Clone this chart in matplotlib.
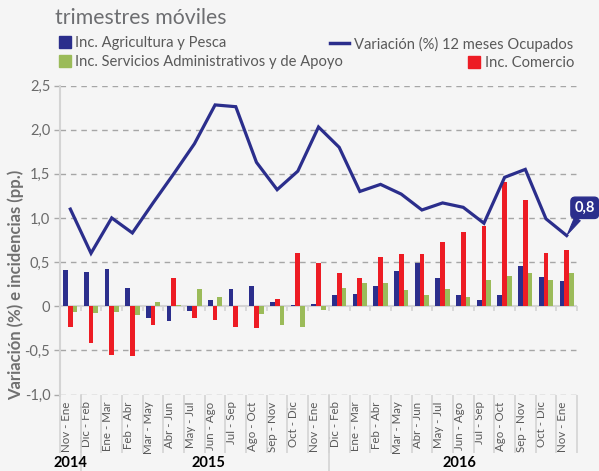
import numpy as np
import matplotlib
matplotlib.use("Agg")
import matplotlib.pyplot as plt
import matplotlib.transforms as mtransforms
from matplotlib.lines import Line2D
from matplotlib.patches import Patch

plt.rcParams['font.family'] = ['Lato', 'DejaVu Sans']

categories = ["Nov - Ene", "Dic - Feb", "Ene - Mar", "Feb - Abr", "Mar - May", "Abr - Jun",
              "May - Jul", "Jun - Ago", "Jul - Sep", "Ago - Oct", "Sep - Nov", "Oct - Dic",
              "Nov - Ene", "Dic - Feb", "Ene - Mar", "Feb - Abr", "Mar - May", "Abr - Jun",
              "May - Jul", "Jun - Ago", "Jul - Sep", "Ago - Oct", "Sep - Nov", "Oct - Dic",
              "Nov - Ene"]
variacion = [1.10, 0.60, 1.00, 0.83, 1.17, 1.50, 1.84, 2.28, 2.26, 1.63, 1.32, 1.53, 2.03,
             1.80, 1.30, 1.38, 1.27, 1.09, 1.17, 1.12, 0.94, 1.46, 1.55, 0.99, 0.80]
agricultura = [0.41, 0.39, 0.42, 0.21, -0.13, -0.165, -0.05, 0.075, 0.20, 0.23, 0.05, 0.01, 0.03,
               0.125, 0.14, 0.23, 0.40, 0.49, 0.32, 0.13, 0.07, 0.13, 0.455, 0.33, 0.285]
comercio = [-0.23, -0.415, -0.55, -0.565, -0.21, 0.325, -0.13, -0.16, -0.235, -0.25, 0.083, 0.60, 0.49,
            0.375, 0.32, 0.56, 0.59, 0.59, 0.73, 0.845, 0.905, 1.41, 1.205, 0.60, 0.64]
servicios = [-0.06, -0.075, -0.065, -0.095, 0.05, 0.01, 0.19, 0.105, 0.0, -0.09, -0.215, -0.235, -0.04,
             0.21, 0.26, 0.265, 0.18, 0.125, 0.20, 0.11, 0.30, 0.34, 0.38, 0.295, 0.375]
years = ["2014", "2015", "2016"]
ytick_vals = [-1.0, -0.5, 0.0, 0.5, 1.0, 1.5, 2.0, 2.5]
ytick_labels = ["-1,0", "-0,5", "0", "0,5", "1,0", "1,5", "2,0", "2,5"]
last_label = "0,8"

NAVY = "#2b2e8c"
RED = "#ed1c24"
GREEN = "#9bbb59"
BG = "#f5f5f5"
GRAY_TXT = "#6a6a6a"
SEP = "#d4d4d4"

W, H = 599, 471
fig = plt.figure(figsize=(W / 100, H / 100), dpi=100, facecolor=BG)
ax = fig.add_axes([60 / W, 1 - 394.5 / H, 517 / W, 309 / H], facecolor=BG)

x = np.arange(len(categories))
bw = 0.23
ax.bar(x - bw, agricultura, bw, color=NAVY, zorder=3)
ax.bar(x, comercio, bw, color=RED, zorder=3)
ax.bar(x + bw, servicios, bw, color=GREEN, zorder=3)
ax.plot(x, variacion, color=NAVY, lw=2.3, zorder=4, solid_joinstyle='miter')

ax.set_xlim(-0.5, len(categories) - 0.5)
ax.set_ylim(-1.0, 2.5)

# grid
ax.set_yticks(ytick_vals)
ax.set_yticklabels(ytick_labels, color=GRAY_TXT, fontsize=10.5)
ax.tick_params(axis='y', length=4, color="#aaaaaa", width=1, pad=3)
for v in ytick_vals:
    if v == 0:
        ax.axhline(v, color=SEP, lw=1.5, zorder=2)
    else:
        ax.axhline(v, color="#a6a6a6", lw=1.0, ls=(0, (4, 3.5)), zorder=1)

for s in ['top', 'right', 'bottom']:
    ax.spines[s].set_visible(False)
ax.spines['left'].set_color(SEP)
ax.spines['left'].set_linewidth(1.5)

# x labels
ax.set_xticks(x)
ax.set_xticklabels(categories, rotation=90, fontsize=8.3, color="#595959")
ax.tick_params(axis='x', which='major', length=0, pad=5)
offset = mtransforms.ScaledTranslation(-3 / 72, 0, fig.dpi_scale_trans)
for lab in ax.get_xticklabels():
    lab.set_transform(lab.get_transform() + offset)
ax.set_xticks(np.arange(-0.5, len(categories), 1), minor=True)
ax.tick_params(axis='x', which='minor', length=42, color=SEP, width=1.2)

# small ticks at zero line
sec = ax.secondary_xaxis(1 / 3.5)
sec.set_xticks(np.arange(-0.5, len(categories), 1))
sec.set_xticklabels([])
sec.tick_params(length=3.5, color=SEP, width=1.2)
sec.spines['bottom'].set_visible(False)

# year separators and labels
trans = mtransforms.blended_transform_factory(ax.transData, ax.transAxes)
for b in [0.5, 12.5]:
    ax.plot([b, b], [0, -0.27], transform=trans, color=SEP, lw=1.2, clip_on=False, zorder=0)
ax.text(-0.012, -0.222, years[0], transform=ax.transAxes, ha='left', va='center',
        fontsize=10.5, fontweight='bold', color='black')
ax.text(0.288, -0.222, years[1], transform=ax.transAxes, ha='center', va='center',
        fontsize=10.5, fontweight='bold', color='black')
ax.text(0.772, -0.222, years[2], transform=ax.transAxes, ha='center', va='center',
        fontsize=10.5, fontweight='bold', color='black')

ax.set_ylabel("Variación (%) e incidencias (pp.)", fontsize=12, fontweight='bold',
              color="#707070")
ax.yaxis.set_label_coords(-0.07, 0.355)

# annotation
ax.annotate(last_label, xy=(x[-1], variacion[-1]), xytext=(13, 20), textcoords='offset points',
            ha='center', va='center', color='white', fontsize=10.5, fontweight='bold',
            bbox=dict(boxstyle='round,pad=0.25,rounding_size=0.3', fc=NAVY, ec=NAVY),
            arrowprops=dict(arrowstyle='wedge,tail_width=0.45', fc=NAVY, ec=NAVY, lw=0.8,
                            shrinkA=0, shrinkB=1),
            annotation_clip=False, zorder=6)

# title (subtitle line)
fig.text(55 / W, 1 - 18 / H, "trimestres móviles", fontsize=15.3, color="#6d6e71",
         ha='left', va='center')

# legends
leg_kw = dict(frameon=False, fontsize=10.6, labelcolor="#595959", borderpad=0,
              handletextpad=0.3, borderaxespad=0)
h_agr = Patch(color=NAVY)
h_ser = Patch(color=GREEN)
h_com = Patch(color=RED)
h_var = Line2D([], [], color=NAVY, lw=2.5)
l1 = fig.legend([h_agr, h_ser], ["Inc. Agricultura y Pesca", "Inc. Servicios Administrativos y de Apoyo"],
                loc='upper left', bbox_to_anchor=(59 / W, 1 - 36 / H), handlelength=0.8,
                handleheight=0.85, labelspacing=0.33, **leg_kw)
l2 = fig.legend([h_var], ["Variación (%) 12 meses Ocupados"], loc='center right',
                bbox_to_anchor=(573 / W, 1 - 44 / H), handlelength=1.3, **leg_kw)
l3 = fig.legend([h_com], ["Inc. Comercio"], loc='center right',
                bbox_to_anchor=(574 / W, 1 - 63 / H), handlelength=0.8, handleheight=0.85, **leg_kw)

fig.savefig("out.png", dpi=100, facecolor=BG)
